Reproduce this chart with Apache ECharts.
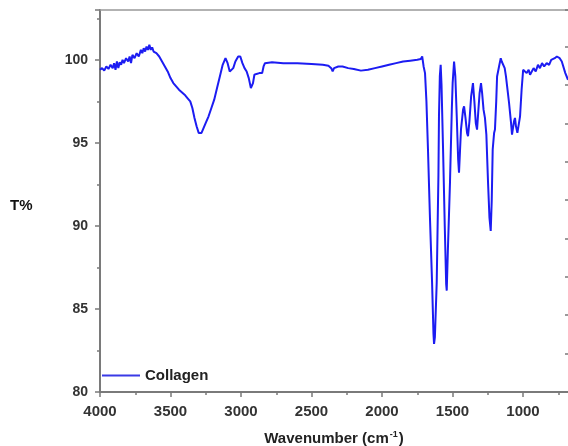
<!DOCTYPE html>
<html><head><meta charset="utf-8">
<script src="https://cdn.jsdelivr.net/npm/echarts@6/dist/echarts.min.js"></script>
<style>html,body{margin:0;padding:0;background:#fff}#c{width:568px;height:446px}</style>
</head><body><div id="c"></div>
<script>
const seriesName = 'Collagen';
const wavenumbers = [
4000,3985,3970,3955,3940,3925,3910,3900,3890,3880,3870,3860,3850,3840,3830,3815,3800,3790,3780,3770,
3755,3740,3725,3710,3700,3690,3680,3670,3660,3650,3640,3630,3620,3600,3580,3560,3540,3520,3500,3480,
3460,3440,3420,3400,3380,3360,3345,3330,3315,3300,3290,3280,3265,3250,3230,3210,3190,3170,3150,3130,
3110,3095,3080,3070,3055,3040,3020,3005,2990,2975,2960,2945,2930,2922,2915,2905,2890,2870,2850,2840,
2830,2780,2700,2600,2500,2420,2380,2360,2350,2340,2330,2310,2280,2240,2200,2150,2100,2050,2000,1950,
1900,1850,1800,1750,1725,1715,1705,1695,1685,1674,1660,1645,1635,1631,1625,1612,1600,1596,1590,1584,
1578,1567,1555,1545,1541,1533,1518,1505,1499,1489,1480,1470,1460,1454,1447,1440,1425,1418,1408,1397,
1390,1380,1368,1355,1345,1335,1326,1318,1308,1298,1290,1280,1270,1260,1248,1238,1229,1222,1215,1205,
1199,1190,1184,1170,1158,1151,1140,1130,1121,1110,1099,1085,1078,1071,1064,1057,1050,1040,1030,1021,
1010,999,985,974,960,950,939,925,910,894,880,865,850,832,815,800,787,775,760,752,
740,725,716,700,681
];
const transmittance = [
99.4,99.5,99.35,99.6,99.45,99.7,99.5,99.8,99.4,99.9,99.5,99.85,99.7,100.0,99.8,100.1,99.9,100.2,99.8,100.3,
100.1,100.4,100.2,100.6,100.4,100.7,100.5,100.8,100.6,100.9,100.6,100.75,100.5,100.4,100.2,99.9,99.6,99.3,98.9,98.6,
98.4,98.2,98.05,97.9,97.7,97.5,97.1,96.5,96.0,95.6,95.5,95.6,95.9,96.2,96.6,97.1,97.6,98.3,99.0,99.7,
100.1,99.8,99.3,99.2,99.5,99.9,100.2,100.2,99.8,99.5,99.3,98.9,98.3,98.2,98.6,99.1,99.15,99.2,99.2,99.6,
99.8,99.85,99.8,99.8,99.75,99.7,99.65,99.5,99.3,99.5,99.45,99.6,99.6,99.5,99.45,99.35,99.4,99.5,99.6,99.7,
99.8,99.9,99.95,100.0,100.05,100.2,99.6,99.2,97.5,94.6,90.5,86.6,83.5,82.9,83.3,86.6,93.0,96.6,99.0,99.7,
98.5,94.6,90.0,86.5,86.1,88.5,92.6,97.0,98.6,99.9,99.0,96.6,94.0,93.2,94.5,95.8,97.0,97.2,96.5,95.6,
95.4,96.3,97.8,98.6,97.5,96.2,95.8,96.8,98.0,98.6,98.0,97.0,96.5,95.5,92.6,90.5,89.7,91.5,94.6,95.6,
95.8,97.5,99.0,99.6,100.1,99.9,100.0,99.5,99.0,98.2,97.4,96.2,95.5,95.5,96.3,96.5,96.0,95.6,95.7,96.6,
98.2,99.4,99.5,99.2,99.4,99.1,99.1,99.5,99.3,99.7,99.5,99.8,99.6,99.8,99.7,100.0,99.9,100.1,100.2,100.3,
100.1,99.9,99.8,99.2,98.8
];
const xMajorTicks = [4000,3500,3000,2500,2000,1500,1000];
const xMinorTicks = [3750,3250,2750,2250,1750,1250,750];
const yTickLabels = [80,85,90,95,100];

const data = wavenumbers.map((w,i)=>[w, transmittance[i]]);
const axisGrey = '#7a7a7a';
const labelFont = 'Liberation Sans, Arial, sans-serif';
const chart = echarts.init(document.getElementById('c'));
chart.setOption({
  animation:false,
  backgroundColor:'#fff',
  grid:{left:100,right:0,top:10,bottom:54,containLabel:false,outerBoundsMode:'none'},
  legend:{
    data:[seriesName], left:97, top:363, icon:'rect', itemWidth:38, itemHeight:2,
    textStyle:{fontFamily:labelFont,fontSize:15,fontWeight:'bold',color:'#222'}
  },
  graphic:[{type:'text',left:10,top:198,style:{text:'T%',font:'bold 15px Liberation Sans, Arial, sans-serif',fill:'#111'}}],
  xAxis:[
    {type:'value',position:'bottom',inverse:true,min:681,max:4000,
     axisLine:{show:true,lineStyle:{color:axisGrey,width:2}},
     axisTick:{show:true,customValues:xMajorTicks,length:5,lineStyle:{color:axisGrey,width:1.5}},
     axisLabel:{customValues:xMajorTicks,fontFamily:labelFont,fontSize:15,fontWeight:'bold',color:'#333',margin:12,
       formatter:v=>String(v)},
     splitLine:{show:false},
     name:'Wavenumber (cm{sup|-1})',nameLocation:'middle',nameGap:38,
     nameTextStyle:{fontFamily:labelFont,fontSize:15,fontWeight:'bold',color:'#222',
       rich:{sup:{fontFamily:labelFont,fontSize:9,fontWeight:'bold',color:'#222',verticalAlign:'top',padding:[0,1,8,1]}}}
    },
    {type:'value',position:'bottom',inverse:true,min:681,max:4000,
     axisLine:{show:false},
     axisTick:{show:true,customValues:xMinorTicks,length:3,lineStyle:{color:axisGrey,width:1.5}},
     axisLabel:{show:false},splitLine:{show:false}},
    {type:'value',position:'top',inverse:true,min:681,max:4000,
     axisLine:{show:true,lineStyle:{color:'#999',width:1.5}},
     axisTick:{show:false},axisLabel:{show:false},splitLine:{show:false}}
  ],
  yAxis:[
    {type:'value',position:'left',min:80,max:103,interval:5,
     axisLine:{show:true,lineStyle:{color:axisGrey,width:2}},
     axisTick:{show:true,length:5,lineStyle:{color:axisGrey,width:1.5}},
     minorTick:{show:true,splitNumber:2,length:3,lineStyle:{color:axisGrey,width:1.5}},
     axisLabel:{fontFamily:labelFont,fontSize:14,fontWeight:'bold',color:'#333',margin:12,
       formatter:v=>yTickLabels.includes(v)?String(v):''},
     splitLine:{show:false}},
    {type:'value',position:'right',min:0,max:9.95,interval:1,
     axisLine:{show:false},
     axisTick:{show:true,inside:true,length:3,lineStyle:{color:axisGrey,width:1.5}},
     axisLabel:{show:false},splitLine:{show:false}}
  ],
  series:[{
    name:seriesName,type:'line',xAxisIndex:0,yAxisIndex:0,data:data,
    showSymbol:false,symbol:'none',smooth:false,
    lineStyle:{color:'#1c1cf2',width:2},itemStyle:{color:'#3a3ae6'}
  }]
});
</script></body></html>
